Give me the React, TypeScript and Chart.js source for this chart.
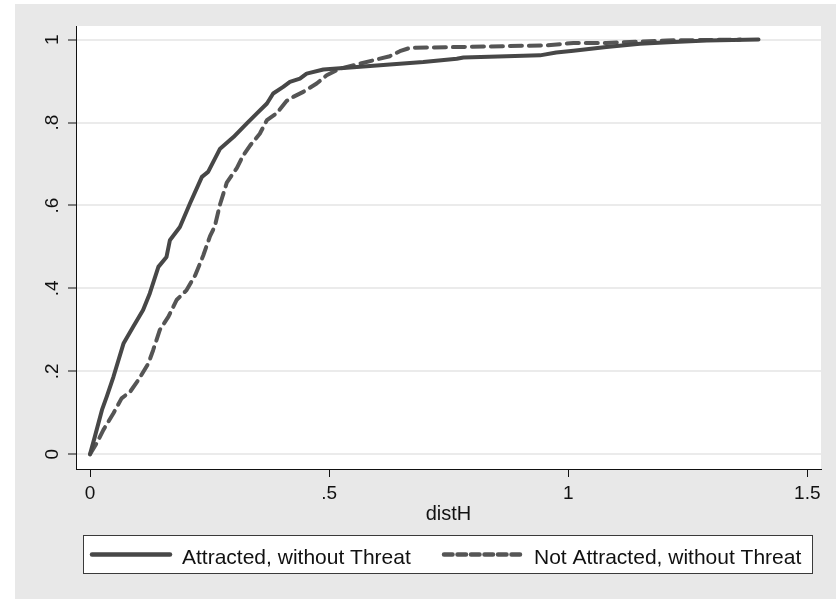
import React, { useEffect, useRef } from "react";
import { Chart, registerables } from "chart.js";

Chart.register(...registerables);

// Attracted, without Threat (solid)
const attractedX = [0, 0.010, 0.025, 0.035, 0.049, 0.070, 0.090, 0.111, 0.125, 0.143, 0.160, 0.167, 0.188, 0.209, 0.234, 0.247, 0.272, 0.300, 0.328, 0.349, 0.370, 0.383, 0.404, 0.418, 0.439, 0.453, 0.488, 0.558, 0.627, 0.697, 0.767, 0.781, 0.871, 0.941, 0.975, 1.011, 1.080, 1.150, 1.220, 1.290, 1.398];
const attractedY = [0, 0.042, 0.107, 0.139, 0.187, 0.267, 0.307, 0.348, 0.388, 0.452, 0.476, 0.516, 0.548, 0.605, 0.669, 0.681, 0.737, 0.765, 0.798, 0.822, 0.846, 0.870, 0.886, 0.898, 0.906, 0.918, 0.928, 0.934, 0.940, 0.946, 0.954, 0.957, 0.960, 0.962, 0.969, 0.973, 0.982, 0.990, 0.994, 0.998, 1.0];

// Not Attracted, without Threat (dashed)
const notAttractedX = [0, 0.014, 0.028, 0.049, 0.066, 0.084, 0.101, 0.122, 0.132, 0.146, 0.164, 0.181, 0.202, 0.220, 0.237, 0.251, 0.261, 0.272, 0.286, 0.307, 0.320, 0.335, 0.355, 0.370, 0.390, 0.411, 0.425, 0.446, 0.474, 0.495, 0.523, 0.558, 0.592, 0.627, 0.648, 0.669, 0.955, 1.011, 1.080, 1.206, 1.360];
const notAttractedY = [0, 0.027, 0.059, 0.099, 0.135, 0.151, 0.179, 0.219, 0.251, 0.300, 0.332, 0.372, 0.396, 0.432, 0.480, 0.526, 0.550, 0.603, 0.655, 0.690, 0.720, 0.745, 0.773, 0.806, 0.822, 0.852, 0.862, 0.874, 0.894, 0.914, 0.930, 0.940, 0.950, 0.960, 0.972, 0.980, 0.986, 0.992, 0.992, 0.998, 1.0];

const seriesNames = ["Attracted, without Threat", "Not Attracted, without Threat"];
const xTickValues = [0, 0.5, 1, 1.5];
const xTickLabels = ["0", ".5", "1", "1.5"];
const yTickValues = [0, 0.2, 0.4, 0.6, 0.8, 1];
const yTickLabels = ["0", ".2", ".4", ".6", ".8", "1"];
const xTitle = "distH";

const FONT = "Arial, 'Liberation Sans', Helvetica, sans-serif";
const SOLID_COLOR = "#474747";
const DASH_COLOR = "#555555";

export default function App() {
  const ref = useRef<HTMLCanvasElement | null>(null);

  useEffect(() => {
    const canvas = ref.current;
    if (!canvas) return;

    const bgPlugin = {
      id: "stataBg",
      beforeDraw(chart: any) {
        const { ctx, width, height, chartArea } = chart;
        ctx.save();
        ctx.fillStyle = "#ffffff";
        ctx.fillRect(0, 0, width, height);
        ctx.fillStyle = "#e8e8e8";
        ctx.fillRect(15, 4, width - 15, height - 4);
        ctx.fillStyle = "#ffffff";
        ctx.fillRect(chartArea.left, chartArea.top, chartArea.right - chartArea.left, chartArea.bottom - chartArea.top);
        ctx.restore();
      },
    };

    const legendPlugin = {
      id: "stataLegend",
      afterDraw(chart: any) {
        const { ctx, chartArea } = chart;
        const left = chartArea.left + 7;
        const right = chartArea.right - 8;
        const top = chartArea.bottom + 66;
        const h = 39;
        ctx.save();
        ctx.fillStyle = "#ffffff";
        ctx.fillRect(left, top, right - left, h);
        ctx.strokeStyle = "#3a3a3a";
        ctx.lineWidth = 1;
        ctx.strokeRect(left + 0.5, top + 0.5, right - left - 1, h - 1);
        const midY = top + h / 2;
        const starts = [left + 8, left + 360];
        chart.data.datasets.forEach((ds: any, i: number) => {
          const x0 = starts[i];
          ctx.beginPath();
          ctx.lineWidth = 4.5;
          ctx.lineCap = "round";
          ctx.strokeStyle = ds.borderColor;
          ctx.setLineDash(i === 0 ? [] : [8.5, 5]);
          ctx.moveTo(x0 + 1, midY);
          ctx.lineTo(x0 + 79, midY);
          ctx.stroke();
          ctx.setLineDash([]);
          ctx.fillStyle = "#111111";
          ctx.font = `21px ${FONT}`;
          ctx.textBaseline = "alphabetic";
          ctx.textAlign = "left";
          ctx.fillText(ds.label, x0 + 91, top + 28.5);
        });
        ctx.restore();
      },
    };

    const chart = new Chart(canvas, {
      type: "line",
      data: {
        datasets: [
          {
            label: seriesNames[0],
            data: attractedX.map((x, i) => ({ x, y: attractedY[i] })),
            borderColor: SOLID_COLOR,
            borderWidth: 4,
            pointRadius: 0,
            tension: 0,
            borderCapStyle: "round",
            borderJoinStyle: "round",
            fill: false,
          },
          {
            label: seriesNames[1],
            data: notAttractedX.map((x, i) => ({ x, y: notAttractedY[i] })),
            borderColor: DASH_COLOR,
            borderWidth: 4,
            borderDash: [12, 7],
            pointRadius: 0,
            tension: 0,
            borderCapStyle: "round",
            borderJoinStyle: "round",
            fill: false,
          },
        ],
      },
      options: {
        responsive: false,
        animation: false,
        devicePixelRatio: 1,
        layout: { padding: { left: 0, right: 15, top: 26, bottom: 70 } },
        plugins: {
          legend: { display: false },
          tooltip: { enabled: false },
        },
        scales: {
          x: {
            type: "linear",
            min: -0.0293,
            max: 1.5287,
            afterBuildTicks: (scale: any) => {
              scale.ticks = xTickValues.map((v) => ({ value: v }));
            },
            afterFit: (scale: any) => {
              scale.height = 60;
            },
            ticks: {
              color: "#111111",
              font: { family: FONT, size: 19 },
              padding: 5,
              maxRotation: 0,
              minRotation: 0,
              callback: (v: any) => {
                const idx = xTickValues.indexOf(Number(v));
                return idx >= 0 ? xTickLabels[idx] : "";
              },
            },
            grid: {
              display: true,
              drawOnChartArea: false,
              drawTicks: true,
              tickLength: 8,
              tickColor: "#111111",
              tickWidth: 1,
            },
            border: { display: true, color: "#111111", width: 1 },
            title: {
              display: true,
              text: xTitle,
              color: "#111111",
              font: { family: FONT, size: 20 },
              padding: { top: 0, bottom: 3 },
            },
          },
          y: {
            type: "linear",
            min: -0.0354,
            max: 1.0328,
            afterBuildTicks: (scale: any) => {
              scale.ticks = yTickValues.map((v) => ({ value: v }));
            },
            afterFit: (scale: any) => {
              scale.width = 76;
            },
            ticks: {
              color: "#111111",
              font: { family: FONT, size: 19 },
              padding: 7,
              minRotation: 90,
              maxRotation: 90,
              crossAlign: "center",
              callback: (v: any) => {
                const idx = yTickValues.indexOf(Number(v));
                return idx >= 0 ? yTickLabels[idx] : "";
              },
            },
            grid: {
              display: true,
              drawOnChartArea: true,
              color: "#ebebeb",
              lineWidth: 2,
              drawTicks: true,
              tickLength: 8,
              tickColor: "#111111",
              tickWidth: 1,
            },
            border: { display: true, color: "#111111", width: 1 },
          },
        },
      },
      plugins: [bgPlugin, legendPlugin],
    } as any);

    return () => chart.destroy();
  }, []);

  return (
    <div style={{ position: "fixed", left: 0, top: 0, width: 836, height: 599 }}>
      <canvas ref={ref} width={836} height={599} style={{ display: "block", width: 836, height: 599 }} />
    </div>
  );
}
